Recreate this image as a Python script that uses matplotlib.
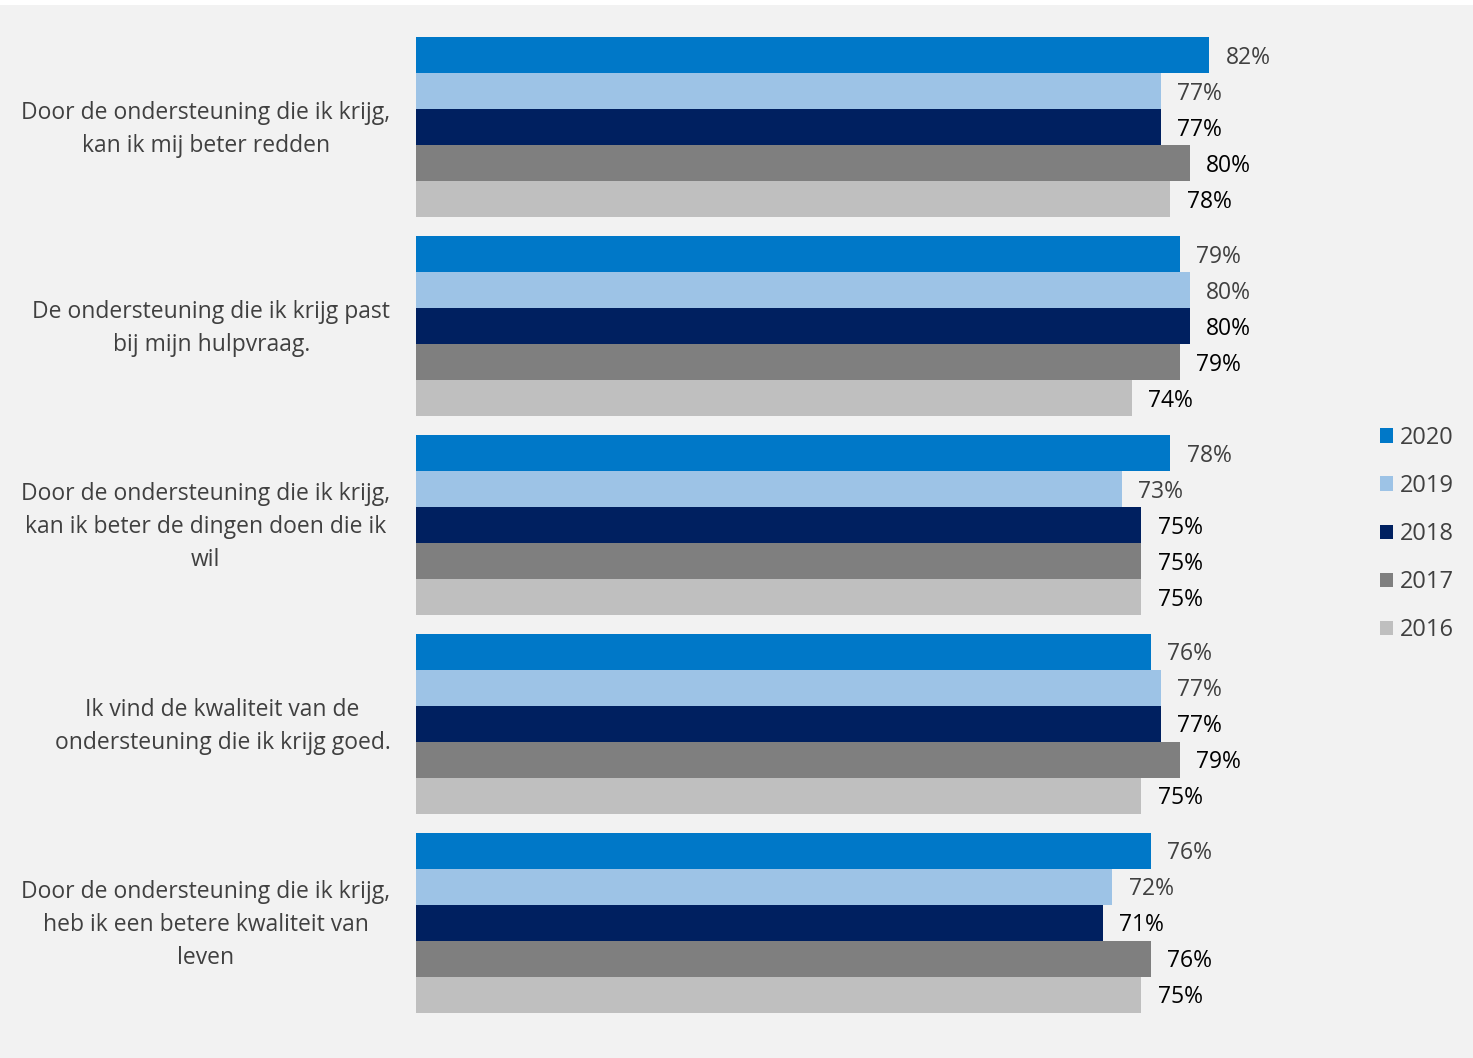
import numpy as np
import matplotlib.pyplot as plt
import matplotlib.transforms as mtransforms
from matplotlib.patches import Rectangle

plt.rcParams['font.family'] = ['Open Sans', 'DejaVu Sans']

# categorieen en waarden per jaar
categories = [
    "Door de ondersteuning die ik krijg,\nkan ik mij beter redden",
    "De ondersteuning die ik krijg past\nbij mijn hulpvraag.",
    "Door de ondersteuning die ik krijg,\nkan ik beter de dingen doen die ik\nwil",
    "Ik vind de kwaliteit van de\nondersteuning die ik krijg goed.",
    "Door de ondersteuning die ik krijg,\nheb ik een betere kwaliteit van\nleven",
]
years = ["2020", "2019", "2018", "2017", "2016"]
v2020 = [82, 79, 78, 76, 76]
v2019 = [77, 80, 73, 77, 72]
v2018 = [77, 80, 75, 77, 71]
v2017 = [80, 79, 75, 79, 76]
v2016 = [78, 74, 75, 75, 75]
values = [v2020, v2019, v2018, v2017, v2016]

colors = ['#0078C8', '#9DC3E6', '#002060', '#7F7F7F', '#BFBFBF']
label_colors = ['#404040', '#404040', '#000000', '#000000', '#000000']

fig = plt.figure(figsize=(14.73, 10.58), dpi=100, facecolor='white')
fig.patches.append(Rectangle((0, 0), 1, 1 - 5 / 1058, transform=fig.transFigure,
                             facecolor='#F2F2F2', edgecolor='none', zorder=-10))
ax = fig.add_axes([416 / 1473, 0.034, (1383 - 416) / 1473, 0.974 - 0.034])
ax.set_facecolor('none')

y = np.arange(len(categories))
h = 36 / 199
for i, (yr, vals) in enumerate(zip(years, values)):
    pos = y - 2 * h + i * h
    bars = ax.barh(pos, vals, height=h, color=colors[i], label=yr)
    for b, v in zip(bars, vals):
        ax.text(v + 1.7, b.get_y() + h / 2 + 0.014, f"{v}%", va='center', ha='left',
                fontsize=16.5, color=label_colors[i])

ax.set_xlim(0, 100)
ax.set_ylim(4.5, -0.5)
ax.set_yticks(y)
ax.set_yticklabels(categories, fontsize=16.5, color='#404040',
                   multialignment='center', linespacing=1.5)
ax.tick_params(axis='y', length=0, pad=18.5)
ax.set_xticks([])
for s in ax.spines.values():
    s.set_visible(False)

# labels iets omhoog
shift = mtransforms.ScaledTranslation(0, 5 / 100, fig.dpi_scale_trans)
for lbl in ax.get_yticklabels():
    lbl.set_transform(lbl.get_transform() + shift)

fig.legend(loc='center left', bbox_to_anchor=(1359 / 1473, 1 - 534 / 1058), frameon=False,
           fontsize=17, handlelength=0.55, handleheight=0.55, handletextpad=0.3,
           labelspacing=1.02, labelcolor='#404040')

fig.savefig('out.png', dpi=100, facecolor=fig.get_facecolor())
